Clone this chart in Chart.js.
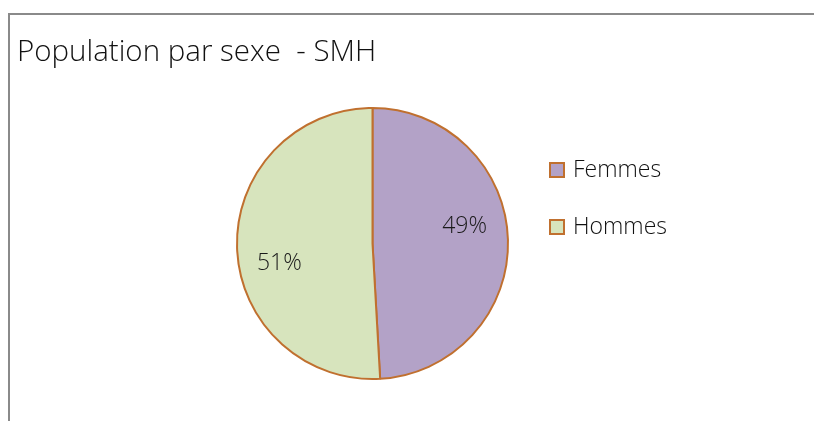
<!DOCTYPE html>
<html><head><meta charset="utf-8">
<script src="https://cdn.jsdelivr.net/npm/chart.js@4/dist/chart.umd.min.js"></script>
<style>html,body{margin:0;padding:0;background:#fff}#wrap{width:814px;height:421px}</style>
</head><body><div id="wrap"><canvas id="c" width="814" height="421"></canvas></div>
<script>
const chartTitle = 'Population par sexe  - SMH';
const categories = ['Femmes', 'Hommes'];
const shares = [49.1, 50.9];
const fillColors = ['#B3A2C7', '#D7E4BD'];
const edgeColor = '#C0702F';
const FONT = '"Open Sans", "Noto Sans", sans-serif';

const framePlugin = {
  id: 'frame',
  beforeDraw(chart) {
    const ctx = chart.ctx;
    ctx.save();
    ctx.fillStyle = '#fff';
    ctx.fillRect(0, 0, chart.width, chart.height);
    ctx.strokeStyle = '#8a8a8a';
    ctx.lineWidth = 2;
    ctx.beginPath();
    ctx.moveTo(9, chart.height);
    ctx.lineTo(9, 14);
    ctx.lineTo(chart.width, 14);
    ctx.stroke();
    ctx.fillStyle = '#111';
    ctx.font = '300 29.5px ' + FONT;
    ctx.textBaseline = 'alphabetic';
    ctx.textAlign = 'left';
    ctx.fillText(chartTitle, 17, 61);
    ctx.restore();
  }
};

const labelPlugin = {
  id: 'pctLabels',
  afterDatasetsDraw(chart, args, opts) {
    const ctx = chart.ctx;
    const meta = chart.getDatasetMeta(0);
    const data = chart.data.datasets[0].data;
    const total = data.reduce((a, b) => a + b, 0);
    ctx.save();
    ctx.fillStyle = '#1a1a1a';
    ctx.font = '300 23px ' + FONT;
    ctx.textAlign = 'center';
    ctx.textBaseline = 'middle';
    meta.data.forEach((arc, i) => {
      const mid = (arc.startAngle + arc.endAngle) / 2;
      const r = arc.outerRadius * opts.radial;
      const off = opts.offsets[i];
      const x = arc.x + Math.cos(mid) * r + off[0];
      const y = arc.y + Math.sin(mid) * r + off[1];
      ctx.fillText(Math.round(data[i] / total * 100) + '%', x, y);
    });
    ctx.restore();
  }
};

const legendPlugin = {
  id: 'sideLegend',
  afterDraw(chart, args, opts) {
    const ctx = chart.ctx;
    const ds = chart.data.datasets[0];
    ctx.save();
    ctx.font = '300 23px ' + FONT;
    ctx.textBaseline = 'middle';
    ctx.textAlign = 'left';
    chart.data.labels.forEach((lab, i) => {
      const y = opts.y + i * opts.step;
      ctx.fillStyle = ds.backgroundColor[i];
      ctx.fillRect(opts.x, y - 7, 14, 14);
      ctx.strokeStyle = ds.borderColor;
      ctx.lineWidth = 2;
      ctx.strokeRect(opts.x, y - 7, 14, 14);
      ctx.fillStyle = '#111';
      ctx.fillText(lab, opts.x + 23, y);
    });
    ctx.restore();
  }
};

new Chart(document.getElementById('c'), {
  type: 'pie',
  data: {
    labels: categories,
    datasets: [{
      data: shares,
      backgroundColor: fillColors,
      borderColor: edgeColor,
      borderWidth: 2
    }]
  },
  options: {
    responsive: false,
    animation: false,
    events: [],
    layout: { padding: { left: 236, right: 305, top: 106, bottom: 40 } },
    plugins: {
      legend: { display: false },
      title: { display: false },
      tooltip: { enabled: false },
      pctLabels: { radial: 0.68, offsets: [[0, -14], [-1, 17]] },
      sideLegend: { x: 550, y: 170, step: 57 }
    }
  },
  plugins: [framePlugin, labelPlugin, legendPlugin]
});
</script>
</body></html>
